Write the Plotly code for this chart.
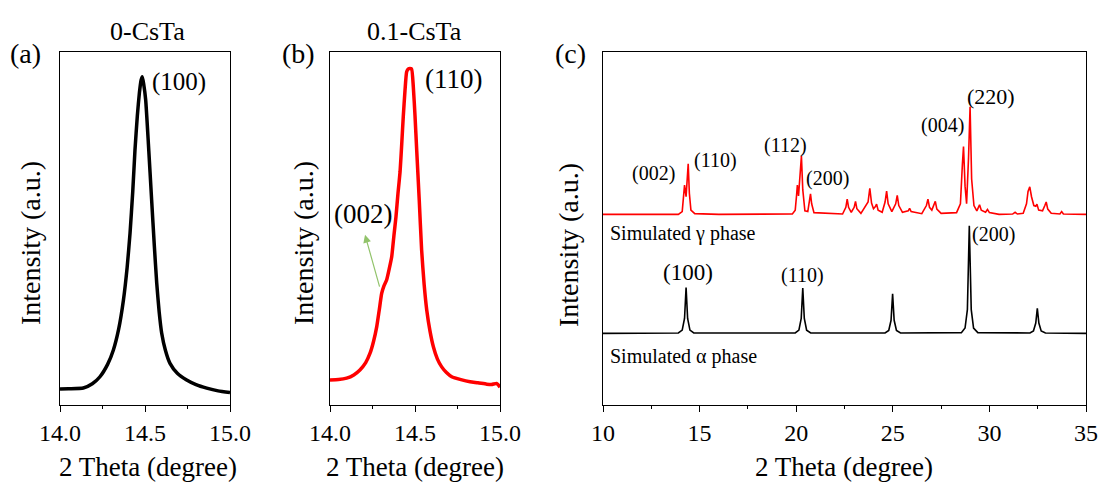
import plotly.graph_objects as go

W, H = 1101, 487
FONT = "Liberation Serif, Times New Roman, serif"

# ---------------- data ----------------
# (a) 0-CsTa
a_x = [14.0, 14.05, 14.137, 14.19, 14.235, 14.28, 14.314, 14.345, 14.373, 14.395, 14.412, 14.428,
       14.441, 14.455, 14.467, 14.477, 14.484, 14.492, 14.504, 14.52, 14.539, 14.555, 14.569, 14.583,
       14.598, 14.62, 14.647, 14.69, 14.745, 14.80, 14.863, 14.93, 15.0]
a_y = [0.045, 0.046, 0.048, 0.060, 0.080, 0.115, 0.156, 0.215, 0.297, 0.39, 0.487, 0.605,
       0.722, 0.82, 0.884, 0.92, 0.930, 0.91, 0.864, 0.74, 0.581, 0.45, 0.345, 0.265,
       0.204, 0.155, 0.118, 0.090, 0.071, 0.058, 0.048, 0.040, 0.035]

# (b) 0.1-CsTa
b_x = [14.0, 14.05, 14.098, 14.14, 14.176, 14.21, 14.235, 14.256, 14.275, 14.29, 14.304, 14.318,
       14.333, 14.348, 14.363, 14.376, 14.388, 14.40, 14.412, 14.422, 14.431, 14.441, 14.451, 14.461,
       14.47, 14.480, 14.490, 14.50, 14.510, 14.525, 14.539, 14.554, 14.569, 14.588, 14.608, 14.632,
       14.657, 14.685, 14.716, 14.77, 14.824, 14.87, 14.922, 14.95, 14.98, 14.99, 15.0]
b_y = [0.071, 0.072, 0.076, 0.085, 0.099, 0.12, 0.146, 0.18, 0.222, 0.27, 0.316, 0.338,
       0.354, 0.385, 0.420, 0.48, 0.533, 0.60, 0.660, 0.74, 0.817, 0.89, 0.944, 0.952,
       0.953, 0.952, 0.902, 0.82, 0.722, 0.58, 0.439, 0.34, 0.269, 0.21, 0.165, 0.13,
       0.108, 0.092, 0.080, 0.072, 0.066, 0.063, 0.059, 0.058, 0.061, 0.057, 0.050]

# (c) simulated gamma phase (red, offset)
g_x = [10.0, 13.9, 14.1, 14.17, 14.22, 14.30, 14.36, 14.41, 14.47, 14.55, 14.75, 16.0, 19.8, 19.95,
       20.02, 20.06, 20.12, 20.20, 20.27, 20.34, 20.45, 20.60, 20.68, 20.74, 20.80, 20.92, 22.4,
       22.57, 22.64, 22.71, 22.85, 23.0, 23.07, 23.14, 23.35, 23.72, 23.81, 23.90, 24.0, 24.10,
       24.16, 24.24, 24.45, 24.60, 24.68, 24.76, 24.95, 25.15, 25.23, 25.31, 25.5, 25.80, 25.87,
       25.95, 26.5, 26.74, 26.82, 26.90, 27.02, 27.13, 27.20, 27.28, 27.5, 28.3, 28.5, 28.60,
       28.66, 28.74, 28.82, 28.92, 29.00, 29.08, 29.2, 29.35, 29.43, 29.49, 29.58, 29.80, 29.90,
       30.0, 30.5, 31.2, 31.33, 31.45, 31.75, 31.92, 32.0, 32.09, 32.18, 32.30, 32.40, 32.46,
       32.55, 32.75, 32.87, 32.94, 33.02, 33.2, 33.65, 33.74, 33.83, 35.0]
g_y = [0.540, 0.540, 0.548, 0.585, 0.623, 0.590, 0.640, 0.683, 0.600, 0.552, 0.542, 0.540, 0.541, 0.552,
       0.595, 0.623, 0.592, 0.640, 0.705, 0.610, 0.550, 0.548, 0.575, 0.598, 0.570, 0.545, 0.541,
       0.560, 0.583, 0.560, 0.546, 0.560, 0.577, 0.556, 0.543, 0.575, 0.614, 0.572, 0.556, 0.562,
       0.569, 0.552, 0.546, 0.575, 0.606, 0.570, 0.548, 0.570, 0.594, 0.565, 0.546, 0.550, 0.557,
       0.548, 0.542, 0.565, 0.583, 0.560, 0.552, 0.565, 0.577, 0.555, 0.543, 0.545, 0.570, 0.680,
       0.732, 0.620, 0.570, 0.700, 0.845, 0.640, 0.565, 0.550, 0.562, 0.567, 0.552, 0.546, 0.554,
       0.545, 0.540, 0.541, 0.546, 0.541, 0.543, 0.570, 0.605, 0.618, 0.590, 0.565, 0.563, 0.569,
       0.552, 0.550, 0.565, 0.575, 0.555, 0.543, 0.541, 0.548, 0.541, 0.540]

# (c) simulated alpha phase (black)
al_x = [10.0, 13.9, 14.1, 14.22, 14.30, 14.38, 14.50, 14.7, 19.95, 20.14, 20.26, 20.34, 20.42, 20.54,
        20.75, 24.6, 24.79, 24.91, 24.99, 25.07, 25.19, 25.4, 28.55, 28.74, 28.86, 28.96, 29.06,
        29.18, 29.4, 32.1, 32.28, 32.40, 32.48, 32.56, 32.68, 32.9, 35.0]
al_y = [0.203, 0.204, 0.212, 0.245, 0.333, 0.245, 0.212, 0.204, 0.204, 0.212, 0.245, 0.331, 0.245, 0.212,
        0.204, 0.204, 0.211, 0.240, 0.315, 0.240, 0.211, 0.204, 0.205, 0.218, 0.270, 0.508, 0.270,
        0.218, 0.205, 0.204, 0.210, 0.232, 0.274, 0.232, 0.210, 0.204, 0.203]

ab_ticks = [14.0, 14.5, 15.0]
ab_ticktext = ["14.0", "14.5", "15.0"]
c_ticks = [10, 15, 20, 25, 30, 35]

# ---------------- figure ----------------
fig = go.Figure()
fig.add_trace(go.Scatter(x=a_x, y=a_y, mode="lines", line=dict(color="black", width=3.5, shape="spline", smoothing=0.5),
                         xaxis="x", yaxis="y", hoverinfo="skip"))
fig.add_trace(go.Scatter(x=b_x, y=b_y, mode="lines", line=dict(color="#FF0000", width=3.5, shape="spline", smoothing=0.5),
                         xaxis="x2", yaxis="y2", hoverinfo="skip"))
fig.add_trace(go.Scatter(x=g_x, y=g_y, mode="lines", line=dict(color="#FF0000", width=1.6),
                         xaxis="x3", yaxis="y3", hoverinfo="skip"))
fig.add_trace(go.Scatter(x=al_x, y=al_y, mode="lines", line=dict(color="black", width=1.6),
                         xaxis="x3", yaxis="y3", hoverinfo="skip"))

def px(x):
    return x / W

def py(y):
    return 1 - y / H

ydom = [py(405), py(52)]
tickfont = dict(family=FONT, size=24, color="black")

def xax(domain, rng, tickvals, ticktext, minor_dtick, anchor):
    return dict(domain=domain, range=rng, anchor=anchor, automargin=False, showline=True, mirror=True,
                linecolor="black", linewidth=1.3, ticks="outside", ticklen=6, tickwidth=1.3, tickcolor="black",
                tickvals=tickvals, ticktext=ticktext, tickfont=tickfont, showgrid=False, zeroline=False,
                minor=dict(ticks="outside", ticklen=3, tickwidth=1.2, tickcolor="black",
                           dtick=minor_dtick, tick0=rng[0], showgrid=False))

def yax(anchor):
    return dict(domain=ydom, range=[0, 1], anchor=anchor, automargin=False, showline=True, mirror=True,
                linecolor="black", linewidth=1.3, ticks="", showticklabels=False, showgrid=False, zeroline=False)

fig.update_layout(
    width=W, height=H, margin=dict(l=0, r=0, t=0, b=0, pad=0, autoexpand=False),
    paper_bgcolor="white", plot_bgcolor="white", showlegend=False,
    xaxis=xax([px(60), px(230)], [14.0, 15.0], ab_ticks, ab_ticktext, 0.25, "y"),
    xaxis2=xax([px(330), px(500)], [14.0, 15.0], ab_ticks, ab_ticktext, 0.25, "y2"),
    xaxis3=xax([px(603), px(1086)], [10, 35], c_ticks, [str(t) for t in c_ticks], 2.5, "y3"),
    yaxis=yax("x"), yaxis2=yax("x2"), yaxis3=yax("x3"),
)

ann = []

def paper_text(text, x, y, size, angle=0, xanchor="center"):
    ann.append(dict(text=text, x=px(x), y=py(y), xref="paper", yref="paper", showarrow=False,
                    xanchor=xanchor, yanchor="middle", textangle=angle,
                    font=dict(family=FONT, size=size, color="black")))

def data_text(text, x, y, axis, size, xanchor="center"):
    ann.append(dict(text=text, x=x, y=y, xref="x" + axis, yref="y" + axis, showarrow=False,
                    xanchor=xanchor, yanchor="middle", font=dict(family=FONT, size=size, color="black")))

# panel labels and titles
paper_text("(a)", 26, 53, 28)
paper_text("(b)", 298, 53, 28)
paper_text("(c)", 570, 53, 28)
paper_text("0-CsTa", 148, 31, 26)
paper_text("0.1-CsTa", 414, 31, 26)
# axis titles
for cx in (148, 415, 844):
    paper_text("2 Theta (degree)", cx, 467, 27)
paper_text("Intensity (a.u.)", 30, 243, 28, angle=-90)
paper_text("Intensity (a.u.)", 303, 243, 28, angle=-90)
paper_text("Intensity (a.u.)", 569, 245, 28, angle=-90)

# panel (a)/(b) peak labels
data_text("(100)", 14.53, 0.915, "", 25, xanchor="left")
data_text("(110)", 14.547, 0.924, "2", 27, xanchor="left")
data_text("(002)", 14.194, 0.541, "2", 27)
ann.append(dict(text="", x=14.206, y=0.482, xref="x2", yref="y2", ax=14.294, ay=0.331, axref="x2", ayref="y2",
                showarrow=True, arrowhead=2, arrowsize=1.3, arrowwidth=1.2, arrowcolor="#92C36B"))

# panel (c) labels
data_text("(002)", 12.59, 0.657, "3", 20)
data_text("(110)", 15.81, 0.694, "3", 20)
data_text("(112)", 19.44, 0.734, "3", 20)
data_text("(200)", 21.62, 0.643, "3", 20)
data_text("(004)", 27.58, 0.793, "3", 20)
data_text("(220)", 30.07, 0.873, "3", 22)
data_text("Simulated γ phase", 10.26, 0.487, "3", 20, xanchor="left")
data_text("(100)", 14.41, 0.374, "3", 23)
data_text("(110)", 20.32, 0.368, "3", 20)
data_text("(200)", 30.23, 0.482, "3", 20)
data_text("Simulated α phase", 10.26, 0.136, "3", 20, xanchor="left")

fig.update_layout(annotations=ann)
fig.write_html("out.html", config={"displayModeBar": False},
               post_script="document.body.style.margin='0';document.body.style.overflow='hidden';")
